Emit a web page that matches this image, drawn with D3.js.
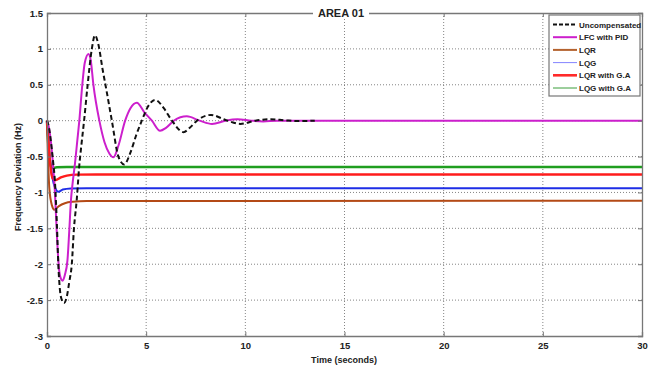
<!DOCTYPE html>
<html>
<head>
<meta charset="utf-8">
<script src="https://cdn.jsdelivr.net/npm/d3@7"></script>
<style>
  body { margin: 0; background: #fff; }
  text { font-family: "Liberation Sans", Arial, sans-serif; font-weight: bold; fill: #222; }
  .grid line { stroke: #666; stroke-width: 0.8; stroke-dasharray: 1,2; }
</style>
</head>
<body>
<svg class="chart"></svg>
<script>

// [time (s), frequency deviation (Hz)]
var uncompensated = [[0,0],[0.1,-0.1],[0.2,-0.3],[0.3,-0.55],[0.4,-0.85],[0.5,-1.45],[0.57,-2.0],[0.65,-2.35],
    [0.75,-2.5],[0.86,-2.54],[1.0,-2.45],[1.12,-2.25],[1.25,-2.0],[1.36,-1.5],[1.5,-1.1],[1.62,-0.65],
    [1.75,-0.3],[1.87,0],[2.05,0.5],[2.26,1.0],[2.42,1.19],[2.6,1.05],[2.8,0.72],[3.0,0.42],[3.27,0],
    [3.6,-0.5],[3.89,-0.61],[4.2,-0.45],[4.5,-0.2],[4.78,0],[5.1,0.2],[5.45,0.29],[5.9,0.17],[6.3,0],
    [6.88,-0.16],[7.2,-0.1],[7.56,0],[8.27,0.08],[9.0,0.01],[9.75,-0.045],[10.5,0],[11.26,0.02],
    [12,0.005],[12.7,-0.005],[13.5,0]];

var pid = [[0,0],[0.1,-0.1],[0.2,-0.3],[0.3,-0.6],[0.4,-1.0],[0.5,-1.6],[0.6,-2.05],[0.7,-2.2],[0.79,-2.23],
    [0.9,-2.15],[1.03,-1.95],[1.12,-1.55],[1.21,-1.1],[1.3,-0.85],[1.41,-0.6],[1.52,-0.3],[1.63,0],
    [1.78,0.5],[1.9,0.8],[2.09,0.93],[2.2,0.85],[2.34,0.5],[2.64,0],[2.9,-0.3],[3.15,-0.46],[3.35,-0.51],
    [3.6,-0.35],[3.94,0],[4.2,0.17],[4.53,0.25],[4.9,0.12],[5.29,0],[5.7,-0.14],[6.0,-0.1],[6.4,0],
    [7.05,0.06],[7.7,0],[8.32,-0.046],[9.0,0],[9.6,0.02],[10.3,0],[10.9,-0.01],[11.6,0],[30,0]];

var lqr = [[0,0],[0.05,-0.5],[0.12,-0.95],[0.25,-1.18],[0.37,-1.24],[0.6,-1.19],[0.9,-1.15],[1.3,-1.13],
    [2,-1.12],[30,-1.115]];

var lqg = [[0,0],[0.1,-0.4],[0.25,-0.75],[0.4,-0.93],[0.57,-0.99],[0.8,-0.96],[1.2,-0.945],[2,-0.94],
    [30,-0.94]];

var lqrGA = [[0,0],[0.08,-0.3],[0.18,-0.65],[0.28,-0.8],[0.4,-0.83],[0.7,-0.79],[1.0,-0.765],[1.5,-0.752],
    [2.5,-0.75],[30,-0.75]];

var lqgGA = [[0,0],[0.05,-0.25],[0.12,-0.5],[0.24,-0.66],[0.5,-0.65],[1,-0.645],[30,-0.645]];

var xTicks = [0, 5, 10, 15, 20, 25, 30];
var yTicks = [-3, -2.5, -2, -1.5, -1, -0.5, 0, 0.5, 1, 1.5];
var legendNames = ["Uncompensated", "LFC with PID", "LQR", "LQG", "LQR with G.A", "LQG with G.A"];

var margin = {top: 13, right: 18, bottom: 35, left: 47},
    width = 660 - margin.left - margin.right,
    height = 371 - margin.top - margin.bottom;

var svg = d3.select(".chart").attr("width", 660).attr("height", 371);
var chart = svg.append("g").attr("transform", "translate(" + margin.left + "," + margin.top + ")");

var x = d3.scaleLinear().domain([0, 30]).range([0, width]);
var y = d3.scaleLinear().domain([-3, 1.5]).range([height, 0]);

// grid
var grid = chart.append("g").attr("class", "grid");
grid.selectAll(".gx").data(xTicks.slice(1, -1)).enter().append("line")
    .attr("x1", x).attr("x2", x).attr("y1", 0).attr("y2", height);
grid.selectAll(".gy").data(yTicks.slice(1, -1)).enter().append("line")
    .attr("y1", y).attr("y2", y).attr("x1", 0).attr("x2", width);

// series
var line = d3.line()
    .x(function(d) { return x(d[0]); })
    .y(function(d) { return y(d[1]); })
    .curve(d3.curveMonotoneX);

var series = [
    {data: lqgGA, color: "#1f9e1f", w: 2.6},
    {data: lqg, color: "#1e2ee6", w: 2},
    {data: lqr, color: "#b44a16", w: 2},
    {data: lqrGA, color: "#ff1c1c", w: 2.4},
    {data: pid, color: "#cc1fcc", w: 2},
    {data: uncompensated, color: "#111", w: 2, dash: "5,3"}
];

var plot = chart.append("g");
plot.selectAll("path").data(series).enter().append("path")
    .attr("d", function(d) { return line(d.data); })
    .attr("fill", "none")
    .attr("stroke", function(d) { return d.color; })
    .attr("stroke-width", function(d) { return d.w; })
    .attr("stroke-dasharray", function(d) { return d.dash || null; });

// axes box with inward ticks on all sides
var fmt = function(d) { return String(d); };
chart.append("g").attr("transform", "translate(0," + height + ")")
    .call(d3.axisBottom(x).tickValues(xTicks).tickSize(-4).tickPadding(6).tickFormat(fmt));
chart.append("g")
    .call(d3.axisLeft(y).tickValues(yTicks).tickSize(-4).tickPadding(4).tickFormat(fmt));
chart.append("g")
    .call(d3.axisTop(x).tickValues(xTicks).tickSize(-4).tickFormat(""));
chart.append("g").attr("transform", "translate(" + width + ",0)")
    .call(d3.axisRight(y).tickValues(yTicks).tickSize(-4).tickFormat(""));

chart.selectAll(".domain").attr("stroke", "#777").attr("stroke-width", 1.3);
chart.selectAll(".tick line").attr("stroke", "#777");
chart.selectAll(".tick text").style("font-size", "9.5px").attr("fill", "#222");

// title sits on the top border
var title = svg.append("g");
title.append("rect").attr("x", 313).attr("y", 5).attr("width", 56).attr("height", 14).attr("fill", "#fff");
title.append("text").attr("x", 341).attr("y", 16.5).attr("text-anchor", "middle")
    .style("font-size", "11px").text("AREA 01");

svg.append("text")
    .attr("x", 344).attr("y", 363).attr("text-anchor", "middle")
    .style("font-size", "9px").text("Time (seconds)");

svg.append("text")
    .attr("transform", "translate(21,177) rotate(-90)").attr("text-anchor", "middle")
    .style("font-size", "9px").text("Frequency Deviation (Hz)");

// legend
var legendStyle = [
    {color: "#111", w: 2, dash: "4,2"},
    {color: "#cc1fcc", w: 2},
    {color: "#b4622e", w: 2},
    {color: "#8484ff", w: 1},
    {color: "#ff2a2a", w: 2.6},
    {color: "#3a9e3a", w: 1}
];

var legend = svg.append("g").attr("transform", "translate(549,15)");
legend.append("rect").attr("width", 91).attr("height", 81)
    .attr("fill", "#fff").attr("stroke", "#777").attr("stroke-width", 1.2);

var items = legend.selectAll(".item").data(legendNames).enter().append("g")
    .attr("transform", function(d, i) { return "translate(0," + (9.5 + i * 12.7) + ")"; });
items.append("line").attr("x1", 4).attr("x2", 28)
    .attr("stroke", function(d, i) { return legendStyle[i].color; })
    .attr("stroke-width", function(d, i) { return legendStyle[i].w; })
    .attr("stroke-dasharray", function(d, i) { return legendStyle[i].dash || null; });
items.append("text").attr("x", 30).attr("y", 3)
    .style("font-size", "8px").text(function(d) { return d; });

</script>
</body>
</html>
